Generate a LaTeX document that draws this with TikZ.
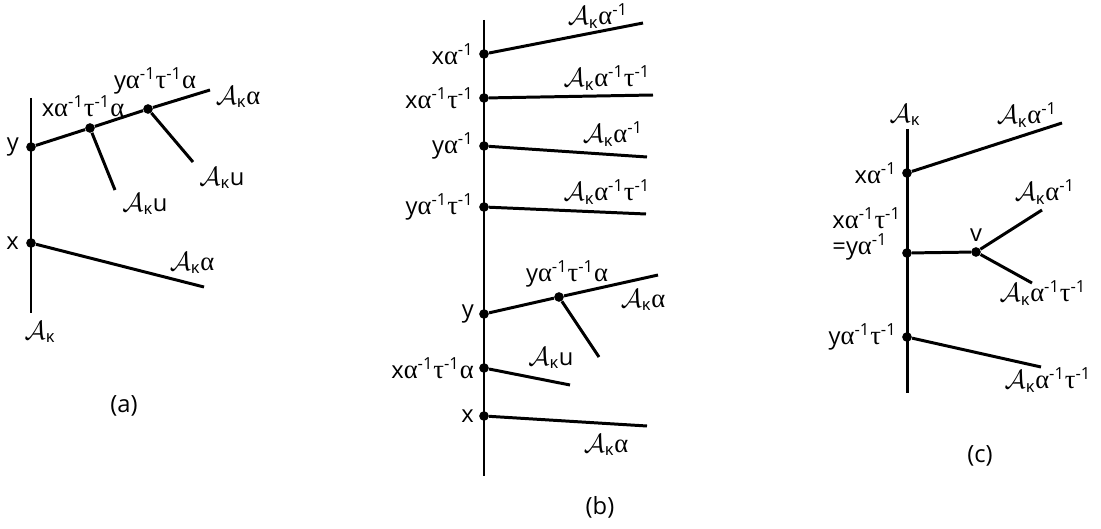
\documentclass[tikz,border=0pt]{standalone}
\usepackage{fontspec}
\setmainfont{Open Sans}
\newfontfamily\grk[Scale=1.12]{Liberation Serif}
\usetikzlibrary{positioning}
\newcommand{\al}{{\grk α}}
\newcommand{\ta}{{\grk τ}}
\newcommand{\Ak}{{\fontsize{10}{12}\selectfont\scalebox{1.5}{$\mathcal{A}$}}\textsubscript{κ}}
\newcommand{\inv}{\textsuperscript{-1}}
\tikzset{
	edge/.style = {
		line width=1.7pt
	},
	dot/.style = {
		fill,
		circle,
		minimum size=5.5pt,
		inner sep=0pt
	},
	lbl/.style = {
		font=\fontsize{13.5}{13}\selectfont,
		inner sep=1pt
	}
}

\begin{document}
\begin{tikzpicture}[x=0.2mm,y=-0.2mm]
	\useasboundingbox (0,0) rectangle (1101,529);
	
	% --- (a) ---
	\coordinate (a top) at (31,98);
	\coordinate (a bot) at (31,313);
	\node[dot] (a y) at (31,147) {};
	\node[dot] (a x) at (31,243) {};
	\node[dot] (a p) at (90,128) {};
	\node[dot] (a q) at (148,109) {};
	\coordinate (a end) at (210,90);
	\coordinate (a pu) at (115,190);
	\coordinate (a qu) at (193,162);
	\coordinate (a xend) at (204,287);
	
	\draw[edge] (a top) -- (a bot);
	\draw[edge] (a y) -- (a p) -- (a q) -- (a end);
	\draw[edge] (a p) -- (a pu);
	\draw[edge] (a q) -- (a qu);
	\draw[edge] (a x) -- (a xend);
	
	\node[lbl, left=1mm of a y] {y};
	\node[lbl, left=1mm of a x] {x};
	\node[lbl] at (83,106) {x\al\inv\ta\inv\al};
	\node[lbl] at (155,81) {y\al\inv\ta\inv\al};
	\node[lbl] at (238,97) {\Ak\al};
	\node[lbl] at (145,204) {\Ak u};
	\node[lbl] at (222,178) {\Ak u};
	\node[lbl] at (192,263) {\Ak\al};
	\node[lbl] at (40,332) {\Ak};
	\node[lbl] at (124,406) {(a)};
	
	% --- (b) ---
	\coordinate (b top) at (484,20);
	\coordinate (b bot) at (484,476);
	\node[dot] (b1) at (484,54) {};
	\node[dot] (b2) at (484,98) {};
	\node[dot] (b3) at (484,146) {};
	\node[dot] (b4) at (484,207) {};
	\node[dot] (b5) at (484,314) {};
	\node[dot] (b6) at (484,368) {};
	\node[dot] (b7) at (484,416) {};
	\node[dot] (b5p) at (559,297) {};
	\coordinate (b1e) at (643,23);
	\coordinate (b2e) at (653,95);
	\coordinate (b3e) at (647,157);
	\coordinate (b4e) at (646,214);
	\coordinate (b5e) at (658,275);
	\coordinate (b5u) at (599,357);
	\coordinate (b6e) at (570,385);
	\coordinate (b7e) at (647,426);
	
	\draw[edge] (b top) -- (b bot);
	\draw[edge] (b1) -- (b1e);
	\draw[edge] (b2) -- (b2e);
	\draw[edge] (b3) -- (b3e);
	\draw[edge] (b4) -- (b4e);
	\draw[edge] (b5) -- (b5p) -- (b5e);
	\draw[edge] (b5p) -- (b5u);
	\draw[edge] (b6) -- (b6e);
	\draw[edge] (b7) -- (b7e);
	
	\node[lbl, left=0.6mm of b1] {x\al\inv};
	\node[lbl, left=0.6mm of b2] {x\al\inv\ta\inv};
	\node[lbl, left=0.6mm of b3] {y\al\inv};
	\node[lbl, left=0.6mm of b4] {y\al\inv\ta\inv};
	\node[lbl, left=0.6mm of b5] {y};
	\node[lbl, left=0.6mm of b6] {x\al\inv\ta\inv\al};
	\node[lbl, left=0.6mm of b7] {x};
	\node[lbl] at (598,16) {\Ak\al\inv};
	\node[lbl] at (607,78) {\Ak\al\inv\ta\inv};
	\node[lbl] at (613,134) {\Ak\al\inv};
	\node[lbl] at (607,192) {\Ak\al\inv\ta\inv};
	\node[lbl] at (567,274) {y\al\inv\ta\inv\al};
	\node[lbl] at (643,300) {\Ak\al};
	\node[lbl] at (551,358) {\Ak u};
	\node[lbl] at (606,445) {\Ak\al};
	\node[lbl] at (600,507) {(b)};
	
	% --- (c) ---
	\coordinate (c top) at (907,129);
	\coordinate (c bot) at (907,393);
	\node[dot] (c1) at (907,173) {};
	\node[dot] (c2) at (907,253) {};
	\node[dot] (c3) at (907,337) {};
	\node[dot] (v) at (976,252) {};
	\coordinate (c1e) at (1062,123);
	\coordinate (va) at (1042,210);
	\coordinate (vb) at (1032,283);
	\coordinate (c3e) at (1041,367);
	
	\draw[edge] (c top) -- (c bot);
	\draw[edge] (c1) -- (c1e);
	\draw[edge] (c2) -- (v);
	\draw[edge] (v) -- (va);
	\draw[edge] (v) -- (vb);
	\draw[edge] (c3) -- (c3e);
	
	\node[lbl] at (905,115) {\Ak};
	\node[lbl, left=0.6mm of c1] {x\al\inv};
	\node[lbl, align=left, anchor=south east, font=\fontsize{13.5}{14.5}\selectfont] at (903,262) {x\al\inv\ta\inv\\=y\al\inv};
	\node[lbl, left=0.6mm of c3] {y\al\inv\ta\inv};
	\node[lbl, above=0.6mm of v] {v};
	\node[lbl] at (1027,115) {\Ak\al\inv};
	\node[lbl] at (1045,192) {\Ak\al\inv};
	\node[lbl] at (1043,293) {\Ak\al\inv\ta\inv};
	\node[lbl] at (1048,380) {\Ak\al\inv\ta\inv};
	\node[lbl] at (980,456) {(c)};
	
\end{tikzpicture}
\end{document}
